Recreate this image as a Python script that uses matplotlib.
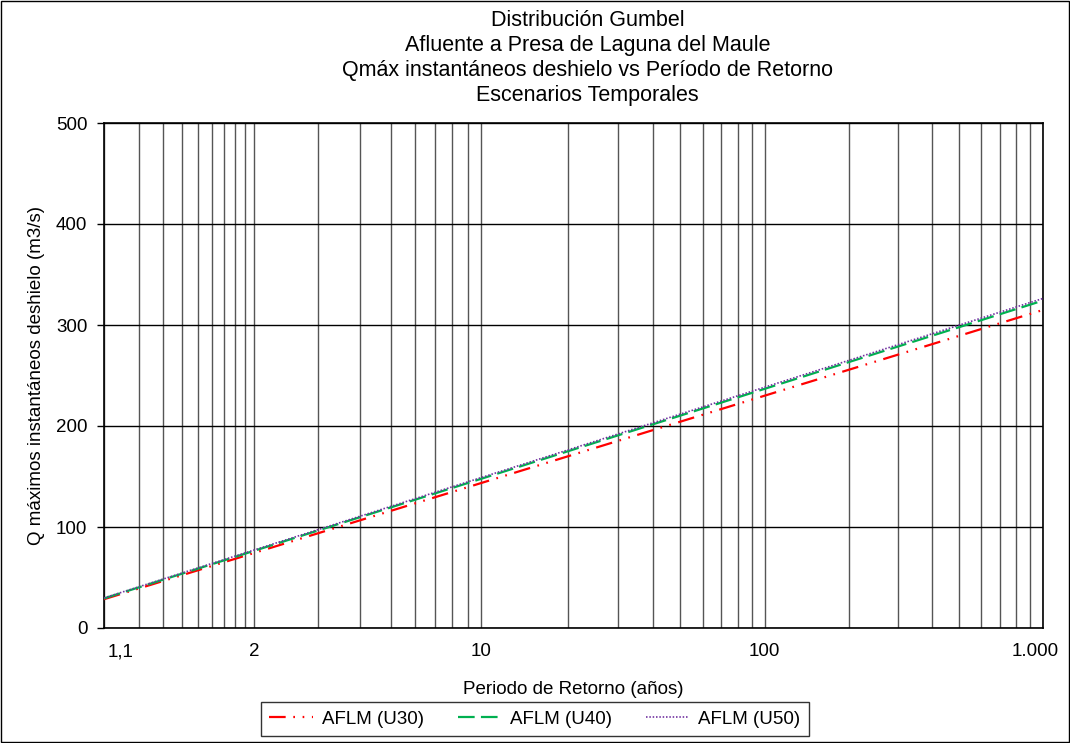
import matplotlib.pyplot as plt
import matplotlib.transforms as mtransforms
import numpy as np
from matplotlib.patches import Rectangle

# Return periods (years) and instantaneous snowmelt peak flows (m3/s)
return_period = [1.1, 2, 5, 10, 20, 50, 100, 200, 500, 1000]
q_u30 = [28.5, 74.2, 115.9, 143.5, 170.0, 204.3, 230.0, 255.6, 289.3, 314.9]
q_u40 = [29.3, 76.3, 119.3, 147.7, 175.0, 210.3, 236.8, 263.2, 297.9, 324.2]
q_u50 = [29.8, 77.1, 120.3, 148.9, 176.3, 211.8, 238.4, 264.9, 299.9, 326.3]

series_names = ["AFLM (U30)", "AFLM (U40)", "AFLM (U50)"]

major_T = [1.1, 2, 10, 100, 1000]
major_labels = ["1,1", "2", "10", "100", "1.000"]
minor_T = ([1.2, 1.3, 1.4, 1.5, 1.6, 1.7, 1.8, 1.9]
           + list(range(3, 10)) + list(range(20, 100, 10))
           + list(range(200, 1000, 100)))

title_lines = [
    "Distribución Gumbel",
    "Afluente a Presa de Laguna del Maule",
    "Qmáx instantáneos deshielo vs Período de Retorno",
    "Escenarios Temporales",
]


def gumbel_fwd(t):
    t = np.asarray(t, dtype=float)
    t = np.clip(t, 1.0 + 1e-9, None)
    return -np.log(-np.log(1.0 - 1.0 / t))


def gumbel_inv(y):
    y = np.asarray(y, dtype=float)
    return 1.0 / (1.0 - np.exp(-np.exp(-y)))


plt.rcParams["font.family"] = ["Liberation Sans", "DejaVu Sans"]
plt.rcParams["lines.scale_dashes"] = False

fig = plt.figure(figsize=(10.7, 7.43), dpi=100, facecolor="white")
ax = fig.add_axes([104 / 1070, 1 - 628 / 743, (1043 - 104) / 1070, (628 - 123) / 743])

# outer chart border
fig.patches.append(Rectangle((0.001, 0.001), 0.998, 0.997, transform=fig.transFigure,
                             fill=False, edgecolor="black", linewidth=1.0))

ax.set_xscale("function", functions=(gumbel_fwd, gumbel_inv))
ax.set_xlim(1.1, 1000)
ax.set_ylim(0, 500)

ax.plot(return_period, q_u30, color="#FF0000", linewidth=1.6,
        dashes=(12, 5.5, 1.2, 5.5, 1.2, 5.5), label=series_names[0], zorder=3)
ax.plot(return_period, q_u40, color="#00B050", linewidth=1.6,
        dashes=(12, 4.5), label=series_names[1], zorder=3)
ax.plot(return_period, q_u50, color="#7030A0", linewidth=1.2,
        dashes=(1.1, 1.3), label=series_names[2], zorder=4)

ax.set_xticks(major_T)
ax.set_xticklabels(major_labels)
ax.set_xticks(minor_T, minor=True)
ax.set_yticks(range(0, 501, 100))

ax.grid(axis="x", which="both", color="#555555", linewidth=1.0, zorder=1)
ax.grid(axis="y", which="major", color="black", linewidth=1.0, zorder=1)
ax.set_axisbelow(True)

ax.tick_params(axis="x", which="both", length=0, pad=11, labelsize=13.5)
ax.tick_params(axis="y", which="major", length=5, width=1.0, pad=7, labelsize=13.5,
               direction="out")
for sp in ax.spines.values():
    sp.set_color("black")
    sp.set_linewidth(1.2)

ax.set_xlabel("Periodo de Retorno (años)", fontsize=13.5, labelpad=15)
ax.set_ylabel("Q máximos instantáneos deshielo (m3/s)", fontsize=13.5, labelpad=8)

fig.text(0.549, 0.987, "\n".join(title_lines), ha="center", va="top",
         fontsize=15.5, linespacing=1.26)

leg = fig.legend(loc="lower center", bbox_to_anchor=(0.5, 0.0), ncol=3,
                 fontsize=13.5, frameon=True, fancybox=False, edgecolor="black",
                 handlelength=2.3, handletextpad=0.5, columnspacing=1.8,
                 borderpad=0.45, borderaxespad=0.35)
leg.get_frame().set_linewidth(1.0)

# nudge the end labels inside the plot width
labels = ax.get_xticklabels()
labels[0].set_transform(labels[0].get_transform()
                        + mtransforms.ScaledTranslation(17 / 100, 0, fig.dpi_scale_trans))
labels[-1].set_transform(labels[-1].get_transform()
                         + mtransforms.ScaledTranslation(-8 / 100, 0, fig.dpi_scale_trans))

fig.savefig("out.png", dpi=100, facecolor="white")
